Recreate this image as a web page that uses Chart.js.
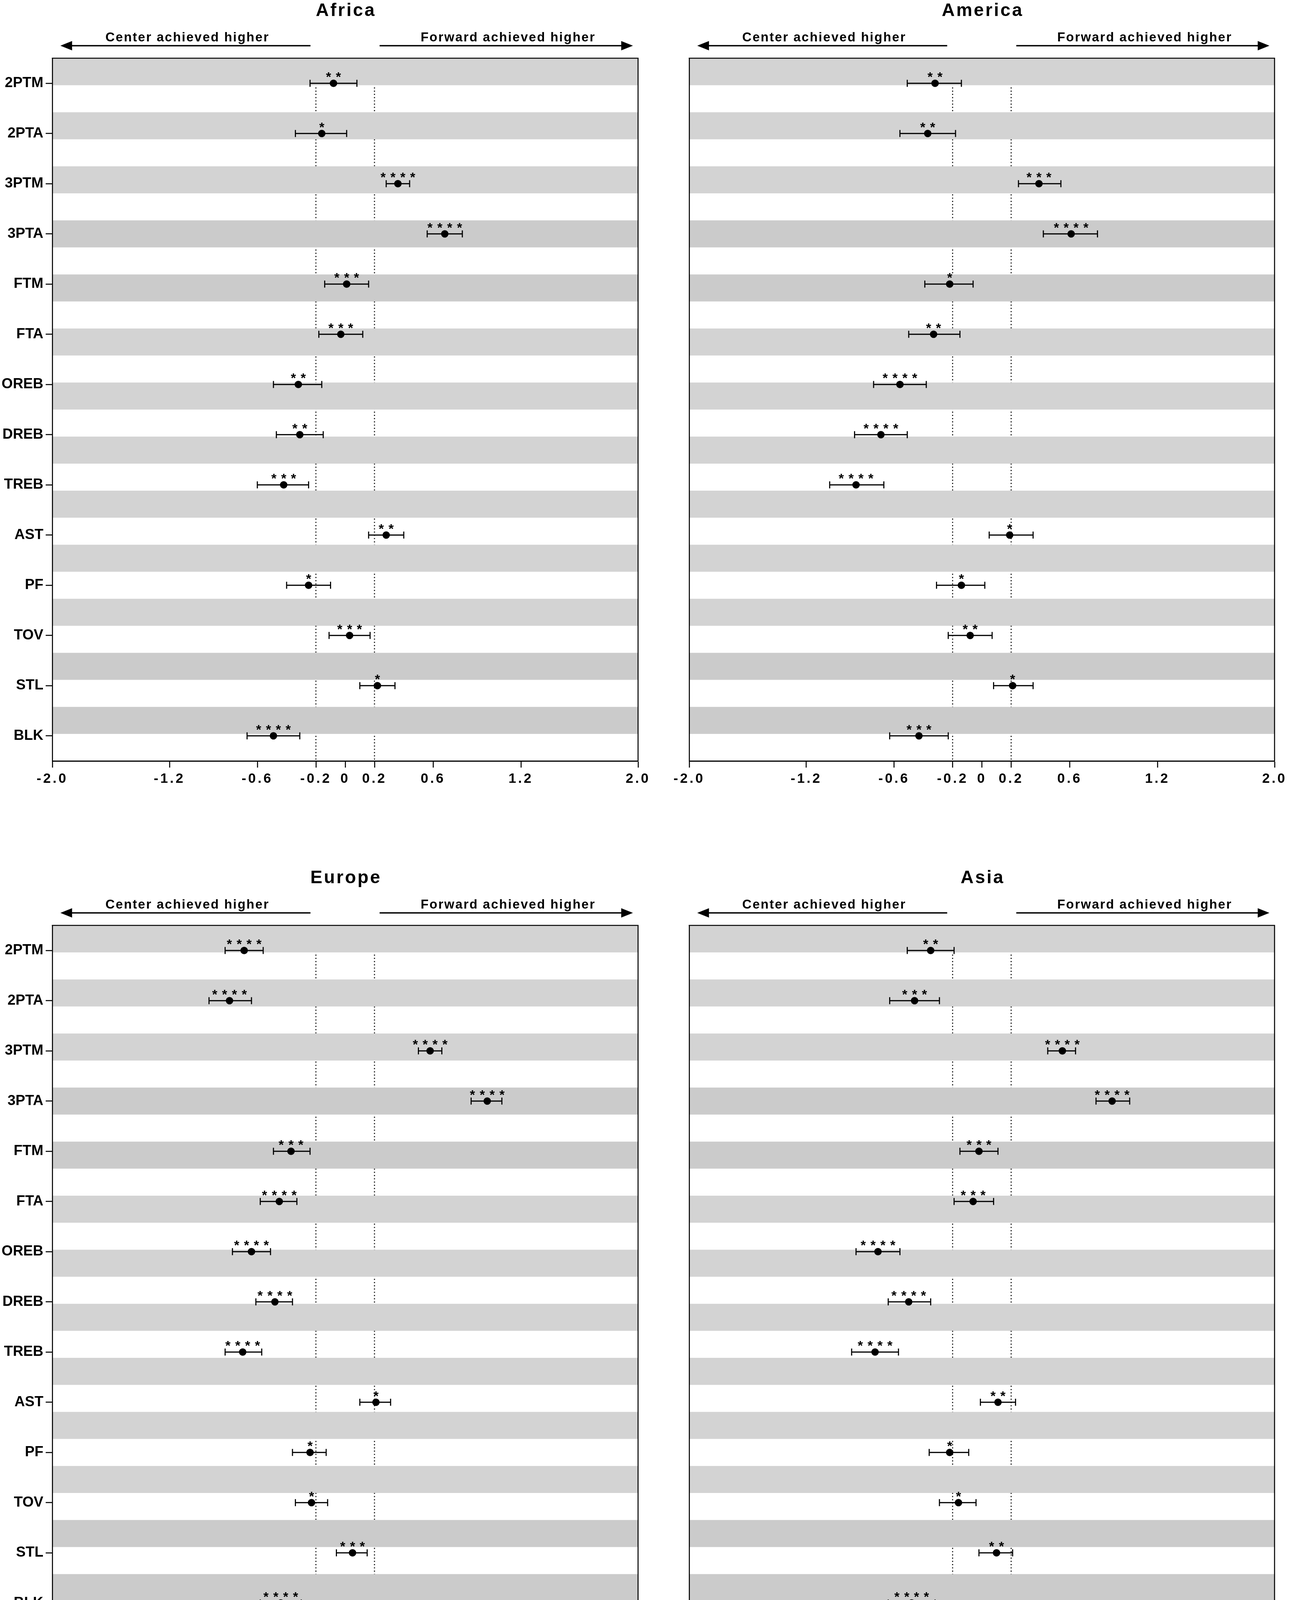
<!DOCTYPE html>
<html>
<head>
<meta charset="utf-8">
<script src="https://cdn.jsdelivr.net/npm/chart.js@4.4.0/dist/chart.umd.min.js"></script>
<style>
  body { margin: 0; background: #fff; }
  #wrap { position: relative; width: 3301px; height: 4237px; overflow: hidden; background: #fff; }
  canvas { position: absolute; }
</style>
</head>
<body>
<div id="wrap">
  <canvas id="africa" width="1700" height="2017" style="left:0;top:0"></canvas>
  <canvas id="america" width="1651" height="2017" style="left:1650px;top:0"></canvas>
  <canvas id="europe" width="1700" height="2017" style="left:0;top:2220px"></canvas>
  <canvas id="asia" width="1651" height="2017" style="left:1650px;top:2220px"></canvas>
</div>
<script>
const stats = ['2PTM', '2PTA', '3PTM', '3PTA', 'FTM', 'FTA', 'OREB', 'DREB', 'TREB', 'AST', 'PF', 'TOV', 'STL', 'BLK'];
const xTicks = [-2, -1.2, -0.6, -0.2, 0, 0.2, 0.6, 1.2, 2];
const xTickLabels = ['-2.0', '-1.2', '-0.6', '-0.2', '0', '0.2', '0.6', '1.2', '2.0'];
const refLines = [-0.2, 0.2];

const africaMean = [-0.08, -0.16, 0.36, 0.68, 0.01, -0.03, -0.32, -0.31, -0.42, 0.28, -0.25, 0.03, 0.22, -0.49];
const africaLow  = [-0.24, -0.34, 0.28, 0.56, -0.14, -0.18, -0.49, -0.47, -0.60, 0.16, -0.40, -0.11, 0.10, -0.67];
const africaHigh = [0.08, 0.01, 0.44, 0.80, 0.16, 0.12, -0.16, -0.15, -0.25, 0.40, -0.10, 0.17, 0.34, -0.31];
const africaStars = ['**', '*', '****', '****', '***', '***', '**', '**', '***', '**', '*', '***', '*', '****'];

const americaMean = [-0.32, -0.37, 0.39, 0.61, -0.22, -0.33, -0.56, -0.69, -0.86, 0.19, -0.14, -0.08, 0.21, -0.43];
const americaLow  = [-0.51, -0.56, 0.25, 0.42, -0.39, -0.50, -0.74, -0.87, -1.04, 0.05, -0.31, -0.23, 0.08, -0.63];
const americaHigh = [-0.14, -0.18, 0.54, 0.79, -0.06, -0.15, -0.38, -0.51, -0.67, 0.35, 0.02, 0.07, 0.35, -0.23];
const americaStars = ['**', '**', '***', '****', '*', '**', '****', '****', '****', '*', '*', '**', '*', '***'];

const europeMean = [-0.69, -0.79, 0.58, 0.97, -0.37, -0.45, -0.64, -0.48, -0.70, 0.21, -0.24, -0.23, 0.05, -0.44];
const europeLow  = [-0.82, -0.93, 0.50, 0.86, -0.49, -0.58, -0.77, -0.61, -0.82, 0.10, -0.36, -0.34, -0.06, -0.58];
const europeHigh = [-0.56, -0.64, 0.66, 1.07, -0.24, -0.33, -0.51, -0.36, -0.57, 0.31, -0.13, -0.12, 0.15, -0.30];
const europeStars = ['****', '****', '****', '****', '***', '****', '****', '****', '****', '*', '*', '*', '***', '****'];

const asiaMean = [-0.35, -0.46, 0.55, 0.89, -0.02, -0.06, -0.71, -0.50, -0.73, 0.11, -0.22, -0.16, 0.10, -0.48];
const asiaLow  = [-0.51, -0.63, 0.45, 0.78, -0.15, -0.19, -0.86, -0.64, -0.89, -0.01, -0.36, -0.29, -0.02, -0.64];
const asiaHigh = [-0.19, -0.29, 0.64, 1.01, 0.11, 0.08, -0.56, -0.35, -0.57, 0.23, -0.09, -0.04, 0.21, -0.32];
const asiaStars = ['**', '***', '****', '****', '***', '***', '****', '****', '****', '**', '*', '*', '**', '****'];

const FONT = "'Liberation Sans', Arial, sans-serif";

function spaced(ctx, px) {
  if ('letterSpacing' in ctx) ctx.letterSpacing = px + 'px';
}

// everything Chart.js has no element for: bands, error bars, stars, frame, headings
function panelPlugin(title, low, high, stars) {
  return {
    id: 'panel',
    beforeDatasetsDraw(chart) {
      const { ctx, chartArea: a, scales: { x, y } } = chart;
      ctx.save();
      // dotted guides first, the grey bands cover them
      ctx.strokeStyle = '#000';
      ctx.lineWidth = 2.7;
      ctx.setLineDash([2.7, 5.6]);
      refLines.forEach(v => {
        const px = x.getPixelForValue(v);
        ctx.beginPath();
        ctx.moveTo(px, a.top);
        ctx.lineTo(px, a.bottom);
        ctx.stroke();
      });
      ctx.setLineDash([]);
      const n = 26, h = (a.bottom - a.top) / n;
      for (let i = 0; i < n; i += 2) {
        const band = i / 2;
        ctx.fillStyle = [3, 4, 11, 12].includes(band) ? '#cbcbcb' : '#d3d3d3';
        ctx.fillRect(a.left, a.top + i * h, a.right - a.left, h);
      }
      // error bars
      ctx.lineWidth = 2.8;
      ctx.strokeStyle = '#000';
      stats.forEach((s, i) => {
        const py = y.getPixelForValue(i);
        const x0 = x.getPixelForValue(low[i]);
        const x1 = x.getPixelForValue(high[i]);
        ctx.beginPath();
        ctx.moveTo(x0, py); ctx.lineTo(x1, py);
        ctx.moveTo(x0, py - 9); ctx.lineTo(x0, py + 9);
        ctx.moveTo(x1, py - 9); ctx.lineTo(x1, py + 9);
        ctx.stroke();
      });
      ctx.restore();
    },
    afterDatasetsDraw(chart) {
      const { ctx } = chart;
      const meta = chart.getDatasetMeta(0);
      ctx.save();
      ctx.fillStyle = '#000';
      ctx.font = 'bold 34px ' + FONT;
      ctx.textAlign = 'center';
      ctx.textBaseline = 'alphabetic';
      spaced(ctx, 12);
      meta.data.forEach((pt, i) => {
        ctx.fillText(stars[i], pt.x + 6, pt.y - 5);
      });
      ctx.restore();
      // x tick labels are drawn next (ticks.z = 1) and are letter-spaced
      spaced(ctx, 5);
    },
    afterDraw(chart) {
      const { ctx, chartArea: a, scales: { x } } = chart;
      spaced(ctx, 0);
      ctx.save();
      ctx.strokeStyle = '#000';
      ctx.lineWidth = 2.6;
      ctx.beginPath();
      ctx.moveTo(a.left - 1.3, a.top);
      ctx.lineTo(a.right, a.top);
      ctx.lineTo(a.right, a.bottom);
      ctx.stroke();

      const cx = (a.left + a.right) / 2;
      ctx.fillStyle = '#000';
      ctx.textAlign = 'center';
      ctx.textBaseline = 'alphabetic';
      ctx.font = 'bold 46px ' + FONT;
      spaced(ctx, 4);
      ctx.fillText(title, cx + 2, 41);

      ctx.font = 'bold 33px ' + FONT;
      spaced(ctx, 2.5);
      ctx.fillText('Center achieved higher', x.getPixelForValue(-1.08) + 1, 106);
      ctx.fillText('Forward achieved higher', x.getPixelForValue(1.11) + 1, 106);
      spaced(ctx, 0);

      const ay = 117;
      const l0 = x.getPixelForValue(-1.945), l1 = x.getPixelForValue(-0.237);
      const r0 = x.getPixelForValue(0.235), r1 = x.getPixelForValue(1.965);
      ctx.lineWidth = 3.5;
      ctx.beginPath();
      ctx.moveTo(l0 + 20, ay); ctx.lineTo(l1, ay);
      ctx.moveTo(r0, ay); ctx.lineTo(r1 - 20, ay);
      ctx.stroke();
      ctx.beginPath();
      ctx.moveTo(l0, ay); ctx.lineTo(l0 + 30, ay - 12); ctx.lineTo(l0 + 30, ay + 12); ctx.closePath();
      ctx.moveTo(r1, ay); ctx.lineTo(r1 - 30, ay - 12); ctx.lineTo(r1 - 30, ay + 12); ctx.closePath();
      ctx.fill();
      ctx.restore();
    }
  };
}

function makePanel(id, title, mean, low, high, stars, showY, yWidth, padRight) {
  const ctx = document.getElementById(id).getContext('2d');
  return new Chart(ctx, {
    type: 'scatter',
    data: {
      datasets: [{
        data: stats.map((s, i) => ({ x: mean[i], y: i })),
        pointRadius: 9.5,
        pointBackgroundColor: '#000',
        pointBorderColor: '#000',
        pointBorderWidth: 0
      }]
    },
    options: {
      responsive: false,
      devicePixelRatio: 1,
      animation: false,
      events: [],
      layout: { padding: { top: 149, right: padRight, bottom: 0, left: 0 } },
      plugins: { legend: { display: false }, tooltip: { enabled: false } },
      scales: {
        x: {
          type: 'linear',
          min: -2,
          max: 2,
          afterBuildTicks: axis => { axis.ticks = xTicks.map(v => ({ value: v })); },
          afterFit: axis => { axis.height = 69; },
          ticks: {
            z: 1,
            autoSkip: false,
            maxRotation: 0,
            minRotation: 0,
            padding: 8,
            color: '#000',
            font: { family: FONT, size: 35, weight: 'bold' },
            callback: v => xTickLabels[xTicks.indexOf(v)]
          },
          grid: { drawOnChartArea: false, drawTicks: true, tickLength: 17, tickWidth: 2.6, tickColor: '#000' },
          border: { display: true, color: '#000', width: 3, z: 1 }
        },
        y: {
          type: 'linear',
          reverse: true,
          min: -0.5,
          max: 13.5,
          afterBuildTicks: axis => { axis.ticks = stats.map((s, i) => ({ value: i })); },
          afterFit: axis => { axis.width = yWidth; },
          ticks: {
            display: showY,
            autoSkip: false,
            padding: 6,
            color: '#000',
            font: { family: FONT, size: 37, weight: 'bold' },
            callback: v => stats[v]
          },
          grid: { drawOnChartArea: false, drawTicks: showY, tickLength: 17, tickWidth: 2.6, tickColor: '#000' },
          border: { display: true, color: '#000', width: 2.6, z: 1 }
        }
      }
    },
    plugins: [panelPlugin(title, low, high, stars)]
  });
}

makePanel('africa', 'Africa', africaMean, africaLow, africaHigh, africaStars, true, 134, 66);
makePanel('america', 'America', americaMean, americaLow, americaHigh, americaStars, false, 115, 37);
makePanel('europe', 'Europe', europeMean, europeLow, europeHigh, europeStars, true, 134, 66);
makePanel('asia', 'Asia', asiaMean, asiaLow, asiaHigh, asiaStars, false, 115, 37);
</script>
</body>
</html>
